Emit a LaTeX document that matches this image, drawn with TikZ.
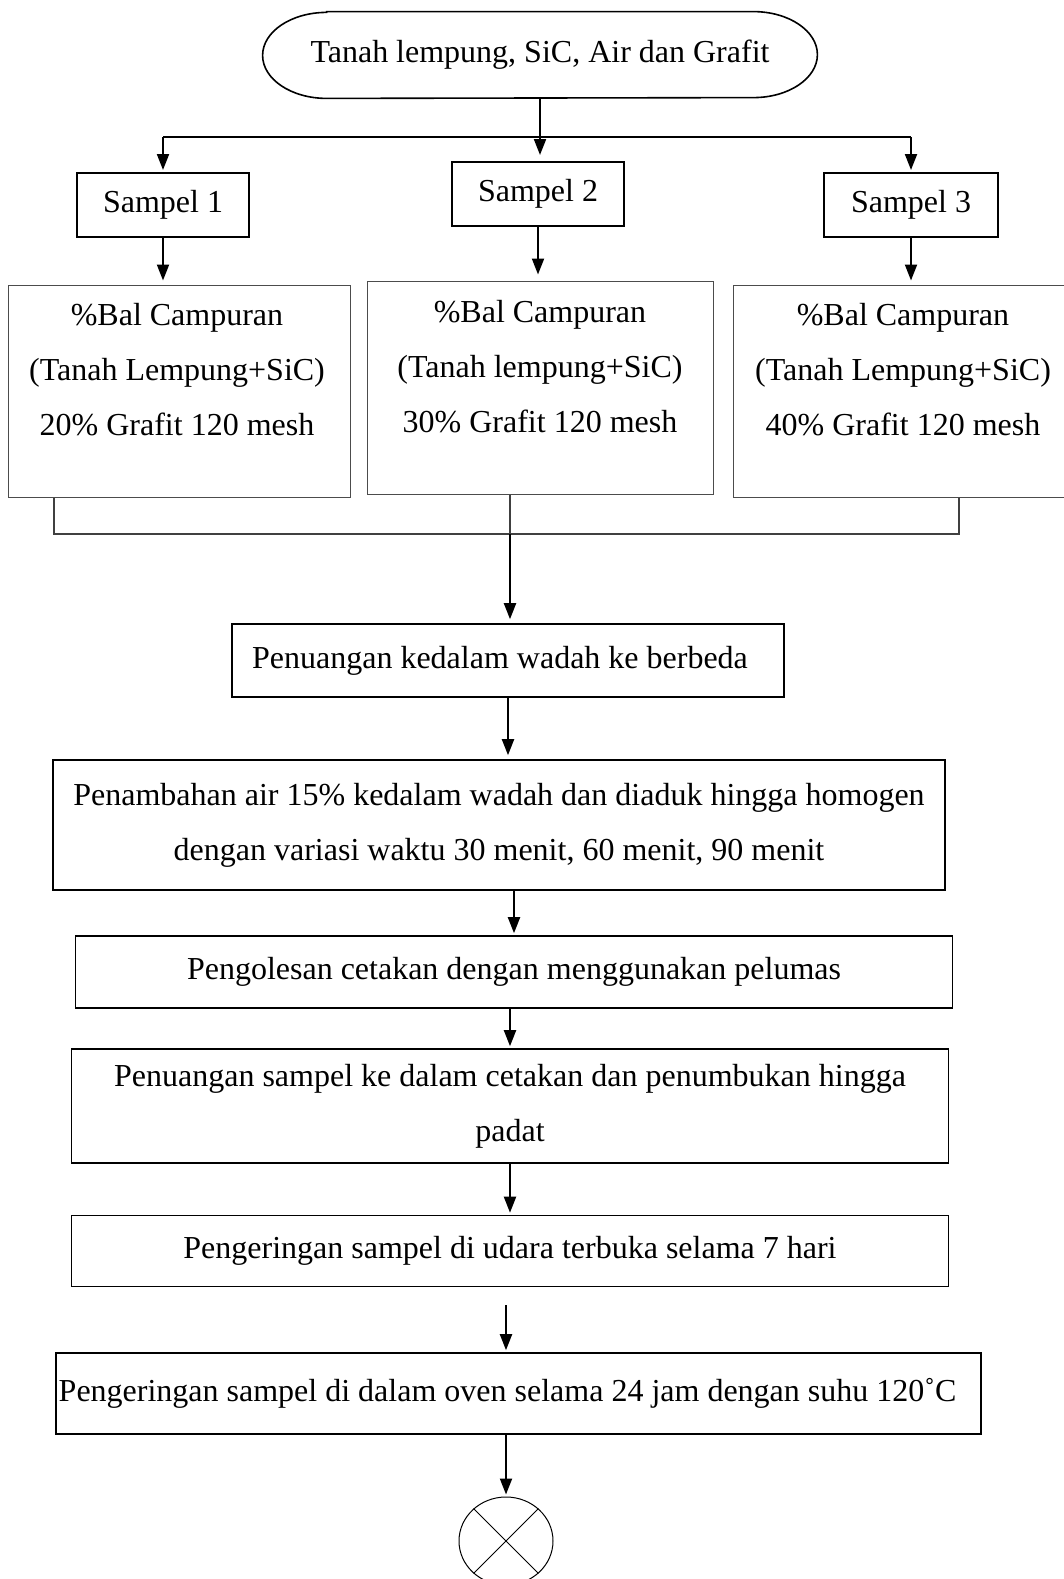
\documentclass[tikz,border=0pt]{standalone}
\usepackage{fontspec}
\setmainfont{Liberation Serif}
\usetikzlibrary{shapes.geometric,arrows.meta}

\begin{document}
\begin{tikzpicture}[
    x=0.5pt, y=-0.5pt, % one unit is one pixel of the page
    font=\fontsize{16}{27.5}\selectfont,
    samplebox/.style={rectangle, draw, line width=1pt, minimum width=86pt, minimum height=32pt},
    panel/.style={rectangle, draw=black!70, line width=0.5pt, minimum height=106pt},
    stepbox/.style={rectangle, draw, line width=0.8pt, align=center},
    link/.style={draw=black!75, line width=0.6pt},
    arrow/.style={-{Triangle[length=8pt,width=6pt]}, line width=1pt, shorten >=1pt}
]
\useasboundingbox (0,0) rectangle (1064,1579);

% start
\node[minimum width=277pt, minimum height=43pt] (start) at (540,55) {Tanah lempung, SiC, Air dan Grafit};
\draw[line width=0.8pt] ([xshift=32pt]start.north west) -- ([xshift=-32pt]start.north east)
    arc[start angle=90, end angle=-90, x radius=32pt, y radius=21.5pt]
    -- ([xshift=32pt]start.south west)
    arc[start angle=270, end angle=90, x radius=32pt, y radius=21.5pt] -- cycle;

% samples
\node[samplebox] (s1) at (163,205) {Sampel 1\hspace{7pt}};
\node[samplebox] (s2) at (538,194) {Sampel 2\hspace{6pt}};
\node[samplebox, minimum width=87pt] (s3) at (911,205) {Sampel 3\hspace{7pt}};

\coordinate (split) at (540,137);
\draw[line width=0.8pt] (s1 |- split) -- (s3 |- split);
\draw[arrow, shorten >=3pt] (start.south) -- (start.south |- s2.north);
\draw[arrow] (s1 |- split) -- (s1.north);
\draw[arrow] (s3 |- split) -- (s3.north);

% mixtures
\node[panel, minimum width=171pt] (mix1) at (179,391) {};
\node[panel, minimum width=173pt, minimum height=106.5pt] (mix2) at (540,387.5) {};
\node[panel, minimum width=165.5pt] (mix3) at (898.5,391) {};
\node[align=center] (mix1text) at (177,370) {\%Bal Campuran\\(Tanah Lempung+SiC)\\20\% Grafit 120 mesh};
\node[align=center] (mix2text) at (540,367) {\%Bal Campuran\\(Tanah lempung+SiC)\\30\% Grafit 120 mesh};
\node[align=center] (mix3text) at (903,370) {\%Bal Campuran\\(Tanah Lempung+SiC)\\40\% Grafit 120 mesh};

\draw[arrow, shorten >=2pt] (s1.south) -- (s1.south |- mix1.north);
\draw[arrow, shorten >=3pt] (s2.south) -- (s2.south |- mix2.north);
\draw[arrow, shorten >=2pt] (s3.south) -- (s3.south |- mix3.north);

% join
\coordinate (join) at (510,534);
\draw[link] ([xshift=-62.5pt]mix1.south) |- (join);
\draw[link] ([xshift=30.25pt]mix3.south) |- (join);
\draw[link] ([xshift=-15pt]mix2.south) -- (join);

% steps
\node[stepbox, minimum width=276pt, minimum height=36.5pt] (b1) at (508,660.5) {Penuangan kedalam wadah ke berbeda\hspace{8pt}};
\node[stepbox, minimum width=446pt, minimum height=65pt] (b2) at (499,825) {Penambahan air 15\% kedalam wadah dan diaduk hingga homogen\\dengan variasi waktu 30 menit, 60 menit, 90 menit};
\node[stepbox, minimum width=438.5pt, minimum height=36pt] (b3) at (514,972) {Pengolesan cetakan dengan menggunakan pelumas};
\node[stepbox, minimum width=438.5pt, minimum height=57pt] (b4) at (510,1106) {Penuangan sampel ke dalam cetakan dan penumbukan hingga\\padat};
\node[stepbox, minimum width=438.5pt, minimum height=35.5pt] (b5) at (510,1251) {Pengeringan sampel di udara terbuka selama 7 hari};
\node[stepbox, inner xsep=0pt, minimum width=462.5pt, minimum height=40.5pt] (b6) at (518.5,1393.5) {Pengeringan sampel di dalam oven selama 24 jam dengan suhu 120˚C\hspace{11pt}};
\node[ellipse, draw, line width=0.5pt, minimum width=47pt, minimum height=44pt, inner sep=0pt] (finish) at (506,1541) {};
\draw[line width=0.5pt] (finish.45) -- (finish.225) (finish.135) -- (finish.-45);

\draw[arrow, shorten >=2pt] (join) -- (join |- b1.north);
\draw[arrow, shorten >=2pt] (b1.south) -- (b1.south |- b2.north);
\draw[arrow] (b3.north |- b2.south) -- (b3.north);
\draw[arrow] (b4.north |- b3.south) -- (b4.north);
\draw[arrow] (b4.south) -- (b4.south |- b5.north);
\draw[arrow, shorten <=9pt] (b5.south -| finish) -- (finish |- b6.north);
\draw[arrow] (b6.south -| finish) -- (finish.north);

\end{tikzpicture}
\end{document}
